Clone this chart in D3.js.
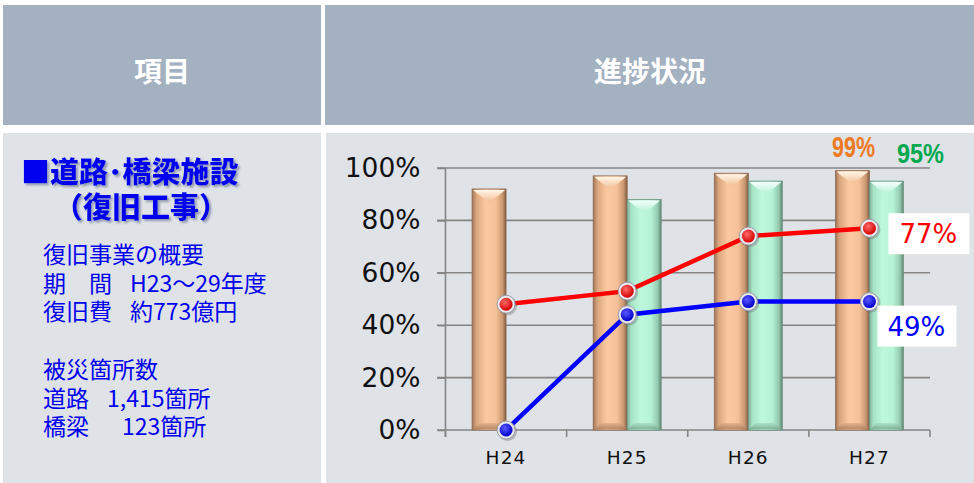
<!DOCTYPE html>
<html><head><meta charset="utf-8">
<script src="https://cdn.jsdelivr.net/npm/d3@7"></script>
<style>
html,body{margin:0;padding:0;background:#fff;}
svg{display:block;}
</style></head>
<body>
<svg id="c" width="974" height="483"></svg>
<script>
// ---- data ----
const categories = ["H24","H25","H26","H27"];
const orangeBars = [92, 97, 98, 99];
const greenBars  = [null, 88, 95, 95];
const redLine    = [48, 53, 74, 77];
const blueLine   = [0, 44, 49, 49];
const yTicks     = [0, 20, 40, 60, 80, 100];
const headerLabels = ["項目", "進捗状況"];
const titleLines = ["■道路･橋梁施設", "（復旧工事）"];
const bodyLines = [["復旧事業の概要",""], ["期　間","H23～29年度"], ["復旧費","約773億円"], ["",""], ["被災箇所数",""], ["道路","1,415箇所"], ["橋梁","123箇所"]];
const bodyValueX = [0, 130, 130, 0, 0, 107, 122];

const svg = d3.select("#c");
const defs = svg.append("defs");
const sh = defs.append("filter").attr("id","tsh").attr("x","-10%").attr("y","-30%").attr("width","130%").attr("height","160%");
sh.append("feDropShadow").attr("dx",2).attr("dy",2).attr("stdDeviation",0.8).attr("flood-color","#8a93a8").attr("flood-opacity",0.9);

svg.append("rect").attr("x",3).attr("y",5).attr("width",318).attr("height",120).attr("fill","#a3b1c0");
svg.append("rect").attr("x",325).attr("y",5).attr("width",649).attr("height",120).attr("fill","#a3b1c0");
svg.append("rect").attr("x",3).attr("y",133).attr("width",318).attr("height",350).attr("fill","#dfe2e7");
svg.append("rect").attr("x",326).attr("y",133).attr("width",648).attr("height",350).attr("fill","#dfe2e7");

const hfont = "'Noto Sans CJK JP','Noto Sans CJK SC',sans-serif";
svg.append("text").attr("x",162).attr("y",70).attr("text-anchor","middle").attr("dominant-baseline","central")
  .attr("fill","#fff").attr("font-family",hfont).attr("font-weight","bold").attr("font-size",28).text(headerLabels[0]);
svg.append("text").attr("x",650).attr("y",70).attr("text-anchor","middle").attr("dominant-baseline","central")
  .attr("fill","#fff").attr("font-family",hfont).attr("font-weight","bold").attr("font-size",28).text(headerLabels[1]);

const tpos = [[21,170,"start"],[141,205,"middle"]];
titleLines.forEach((t,i)=>{
  svg.append("text").attr("x",tpos[i][0]).attr("y",tpos[i][1]).attr("text-anchor",tpos[i][2]).attr("dominant-baseline","central")
    .attr("fill","#0000ee").attr("font-family",hfont).attr("font-weight","900").attr("font-size",29)
    .attr("filter","url(#tsh)").text(t);
});
bodyLines.forEach((t,i)=>{
  const tx = svg.append("text").attr("y",253+i*28.7).attr("dominant-baseline","central")
    .attr("fill","#0000ee").attr("font-family",hfont).attr("font-size",23);
  tx.append("tspan").attr("x",43).text(t[0]);
  if (t[1]) tx.append("tspan").attr("x",bodyValueX[i]).text(t[1]);
});

// ---- chart ----
const x = d3.scaleBand().domain(categories).range([445.5, 930]).padding(0);
const y = d3.scaleLinear().domain([0,100]).range([430, 168]);
const g = svg.append("g");
const gridColor = "#858585";

g.selectAll(".grid").data(yTicks.filter(d=>d>0)).join("line")
  .attr("x1",437).attr("x2",930).attr("y1",d=>y(d)).attr("y2",d=>y(d))
  .attr("stroke",gridColor).attr("stroke-width",1.6);
const yAxis = d3.axisLeft(y).tickValues(yTicks).tickFormat(d=>d+"%").tickSize(8).tickPadding(17);
const ya = g.append("g").attr("transform","translate(445.5,0)").call(yAxis);
ya.select(".domain").attr("stroke",gridColor).attr("stroke-width",1.6).attr("d","M0,168V437");
ya.selectAll(".tick line").attr("stroke",gridColor).attr("stroke-width",1.6);
ya.selectAll("text").attr("font-family","'DejaVu Sans',sans-serif").attr("font-size",26.5).attr("fill","#111");
const xAxis = d3.axisBottom(x).tickSize(0).tickPadding(21);
const xa = g.append("g").attr("transform","translate(0,430)").call(xAxis);
xa.select(".domain").attr("stroke",gridColor).attr("stroke-width",1.6).attr("d","M437,0H930");
xa.selectAll("text").attr("font-family","'DejaVu Sans',sans-serif").attr("font-size",18.5).attr("fill","#111").attr("letter-spacing",1.2);
const edges = categories.map(c=>x(c)).concat([930]);
g.selectAll(".xt").data(edges).join("line").attr("x1",d=>d).attr("x2",d=>d).attr("y1",430).attr("y2",437)
  .attr("stroke",gridColor).attr("stroke-width",1.6);

function hgrad(id, stops){
  const lg = defs.append("linearGradient").attr("id",id).attr("x1","0").attr("x2","1").attr("y1","0").attr("y2","0");
  stops.forEach(s=>lg.append("stop").attr("offset",s[0]).attr("stop-color",s[1]));
}
hgrad("gO",[[0,"#9c7458"],[0.12,"#d9a57d"],[0.4,"#fbc9a0"],[0.7,"#f6c198"],[0.9,"#c9966f"],[1,"#7e5c44"]]);
hgrad("gG",[[0,"#7fae97"],[0.12,"#a7e4c7"],[0.4,"#bdf8dd"],[0.7,"#b5f2d6"],[0.9,"#93c9ae"],[1,"#5e8571"]]);
function vgrad(id, c1, c2){
  const lg = defs.append("linearGradient").attr("id",id).attr("x1","0").attr("x2","0").attr("y1","0").attr("y2","1");
  lg.append("stop").attr("offset",0).attr("stop-color",c1);
  lg.append("stop").attr("offset",1).attr("stop-color",c2);
}
vgrad("tO","#fff6e8","#f2bd93");
vgrad("tG","#f4fffb","#b4f0d4");
vgrad("bO","#e0ad86","#a97d5d");
vgrad("bG","#a8dcc3","#78a58e");

const bw = 34;
function drawBars(vals, side, fillId, topId, botId, stroke){
  const data = categories.map((c,i)=>({c, v:vals[i]})).filter(d=>d.v!=null);
  const bx = d=> x(d.c)+x.bandwidth()/2 + (side<0 ? -bw : 0);
  const gg = g.append("g");
  gg.selectAll("rect").data(data).join("rect")
    .attr("x",bx).attr("y",d=>y(d.v)).attr("width",bw).attr("height",d=>y(0)-y(d.v))
    .attr("fill",`url(#${fillId})`).attr("stroke",stroke).attr("stroke-width",0.8);
  gg.selectAll(".top").data(data).join("path")
    .attr("d",d=>{const x0=bx(d), t=y(d.v); return `M${x0+1},${t+1}H${x0+bw-1}L${x0+bw-7},${t+6}L${x0+bw/2},${t+13}L${x0+7},${t+6}Z`;})
    .attr("fill",`url(#${topId})`);
  gg.selectAll(".bot").data(data).join("path")
    .attr("d",d=>{const x0=bx(d), b=y(0); return `M${x0+1},${b-1}H${x0+bw-1}L${x0+bw-7},${b-7}H${x0+7}Z`;})
    .attr("fill",`url(#${botId})`).attr("opacity",0.8);
}
drawBars(orangeBars,-1,"gO","tO","bO","#8f6a50");
drawBars(greenBars,1,"gG","tG","bG","#6b9580");

const cx = c => x(c)+x.bandwidth()/2;
function radial(id, c1, c2){
  const rg = defs.append("radialGradient").attr("id",id).attr("cx","0.4").attr("cy","0.35").attr("r","0.65");
  rg.append("stop").attr("offset",0).attr("stop-color",c1);
  rg.append("stop").attr("offset",1).attr("stop-color",c2);
}
radial("rR","#ff6a6a","#d40000");
radial("rB","#5a5aff","#0000c8");
function drawLine(vals, color, grad){
  const data = categories.map((c,i)=>({c,v:vals[i]}));
  g.append("path").datum(data).attr("fill","none").attr("stroke",color).attr("stroke-width",4.5)
    .attr("d", d3.line().x(d=>cx(d.c)).y(d=>y(d.v)));
  const m = g.append("g");
  m.selectAll(".sh").data(data).join("circle").attr("cx",d=>cx(d.c)+1.5).attr("cy",d=>y(d.v)+1.5).attr("r",9.5).attr("fill","#666").attr("opacity",0.35);
  m.selectAll(".ring").data(data).join("circle").attr("cx",d=>cx(d.c)).attr("cy",d=>y(d.v)).attr("r",9)
    .attr("fill","#e8e8ee").attr("stroke","#9a9aa5").attr("stroke-width",1);
  m.selectAll(".dot").data(data).join("circle").attr("cx",d=>cx(d.c)).attr("cy",d=>y(d.v)).attr("r",6.5)
    .attr("fill",`url(#${grad})`);
}
drawLine(redLine,"#ff0000","rR");
drawLine(blueLine,"#0000ff","rB");

const last = categories.length-1;
const lx = cx(categories[last]);
svg.append("rect").attr("x",lx+19).attr("y",y(redLine[last])-15).attr("width",81).attr("height",41).attr("fill","#fff");
svg.append("text").attr("x",lx+59).attr("y",y(redLine[last])+6).attr("text-anchor","middle").attr("dominant-baseline","central")
  .attr("font-family","'DejaVu Sans',sans-serif").attr("font-size",26).attr("fill","#ff0000").text(redLine[last]+"%");
svg.append("rect").attr("x",lx+8).attr("y",y(blueLine[last])+4).attr("width",79).attr("height",41).attr("fill","#fff");
svg.append("text").attr("x",lx+47).attr("y",y(blueLine[last])+25).attr("text-anchor","middle").attr("dominant-baseline","central")
  .attr("font-family","'DejaVu Sans',sans-serif").attr("font-size",26).attr("fill","#0000ff").text(blueLine[last]+"%");

svg.append("text").attr("x",832).attr("y",157).attr("font-family","'Liberation Sans',sans-serif").attr("font-weight","bold")
  .attr("font-size",30).attr("fill","#ee7a22").attr("textLength",43).attr("lengthAdjust","spacingAndGlyphs").text(orangeBars[last]+"%");
svg.append("text").attr("x",897).attr("y",163).attr("font-family","'Liberation Sans',sans-serif").attr("font-weight","bold")
  .attr("font-size",28).attr("fill","#00a84f").attr("textLength",47).attr("lengthAdjust","spacingAndGlyphs").text(greenBars[last]+"%");
</script>
</body></html>
